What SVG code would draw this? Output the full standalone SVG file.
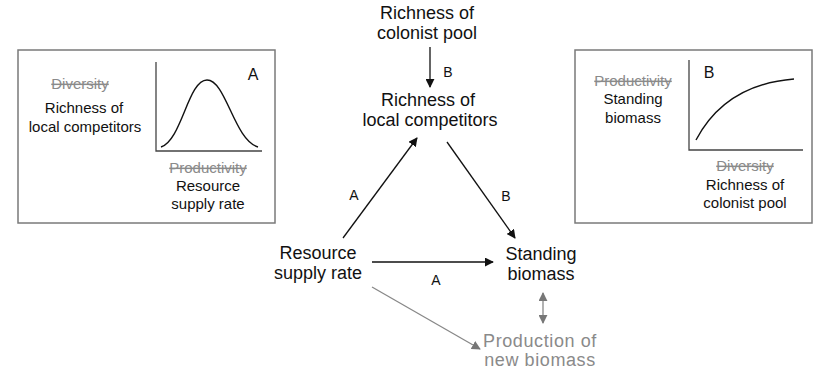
<svg xmlns="http://www.w3.org/2000/svg" width="822" height="375" viewBox="0 0 822 375">
<style>
text{font-family:"Liberation Sans",Arial,sans-serif;text-anchor:middle;fill:#111}
.m{font-size:18px}
.s{font-size:15px}
.g{fill:#8a8a8a}
.x{fill:#8a8a8a;text-decoration:line-through}
.lb{font-size:14px}
.box{fill:#fff;stroke:#7a7a7a;stroke-width:1.5}
.ax{fill:none;stroke:#444;stroke-width:1.3}
.cv{fill:none;stroke:#111;stroke-width:1.4}
.e{stroke:#111;stroke-width:1.3;fill:none}
.eg{stroke:#888;stroke-width:1.3;fill:none}
</style>
<defs>
<marker id="ah" viewBox="0 0 10 10" refX="9" refY="5" markerWidth="9" markerHeight="9" markerUnits="userSpaceOnUse" orient="auto"><path d="M0,0 L10,5 L0,10 z" fill="#111"/></marker>
<marker id="ahg" viewBox="0 0 10 10" refX="9" refY="5" markerWidth="9" markerHeight="9" markerUnits="userSpaceOnUse" orient="auto-start-reverse"><path d="M0,0 L10,5 L0,10 z" fill="#777"/></marker>
</defs>
<g id="panelA">
<rect class="box" x="18" y="50" width="257" height="173"/>
<text class="s x" x="80" y="89">Diversity</text>
<text class="s" x="84" y="113">Richness of</text>
<text class="s" x="85" y="132">local competitors</text>
<path class="ax" d="M156,62 V151 H262"/>
<path class="cv" d="M161,147 C182,140 188,80 207,80 C226,80 234,140 258,147"/>
<text class="s" x="253" y="80" style="font-size:16px">A</text>
<text class="s x" x="208" y="173">Productivity</text>
<text class="s" x="208" y="191">Resource</text>
<text class="s" x="208" y="209">supply rate</text>
</g>
<g id="panelB">
<rect class="box" x="575" y="50" width="237" height="173"/>
<text class="s x" x="633" y="86">Productivity</text>
<text class="s" x="633" y="104">Standing</text>
<text class="s" x="633" y="123">biomass</text>
<path class="ax" d="M689,60 V150 H803"/>
<path class="cv" d="M696,140 C714,106 744,83 794,79"/>
<text class="s" x="709" y="78" style="font-size:16px">B</text>
<text class="s x" x="745" y="171">Diversity</text>
<text class="s" x="745" y="190">Richness of</text>
<text class="s" x="745" y="208">colonist pool</text>
</g>
<g id="colonist"><text class="m" x="427" y="19">Richness of</text><text class="m" x="427" y="39">colonist pool</text></g>
<g id="local"><text class="m" x="428" y="106">Richness of</text><text class="m" x="430" y="126">local competitors</text></g>
<g id="resource"><text class="m" x="318" y="259">Resource</text><text class="m" x="318" y="279">supply rate</text></g>
<g id="standing"><text class="m" x="541" y="260">Standing</text><text class="m" x="541" y="280">biomass</text></g>
<g id="production"><text class="m g" x="540" y="347" style="letter-spacing:0.6px">Production of</text><text class="m g" x="540" y="366" style="letter-spacing:0.6px">new biomass</text></g>
<g id="connectors">
<line class="e" x1="430" y1="47" x2="430" y2="87" marker-end="url(#ah)"/>
<text class="lb" x="448" y="77">B</text>
<line class="e" x1="343" y1="238" x2="417" y2="138" marker-end="url(#ah)"/>
<text class="lb" x="354" y="200">A</text>
<line class="e" x1="447" y1="142" x2="515" y2="238" marker-end="url(#ah)"/>
<text class="lb" x="506" y="201">B</text>
<line class="e" x1="372" y1="262" x2="493" y2="262" marker-end="url(#ah)"/>
<text class="lb" x="436" y="285">A</text>
<line class="eg" x1="372" y1="287" x2="480" y2="349" marker-end="url(#ahg)"/>
<line class="eg" x1="543" y1="293" x2="543" y2="323" marker-start="url(#ahg)" marker-end="url(#ahg)"/>
</g>
</svg>
